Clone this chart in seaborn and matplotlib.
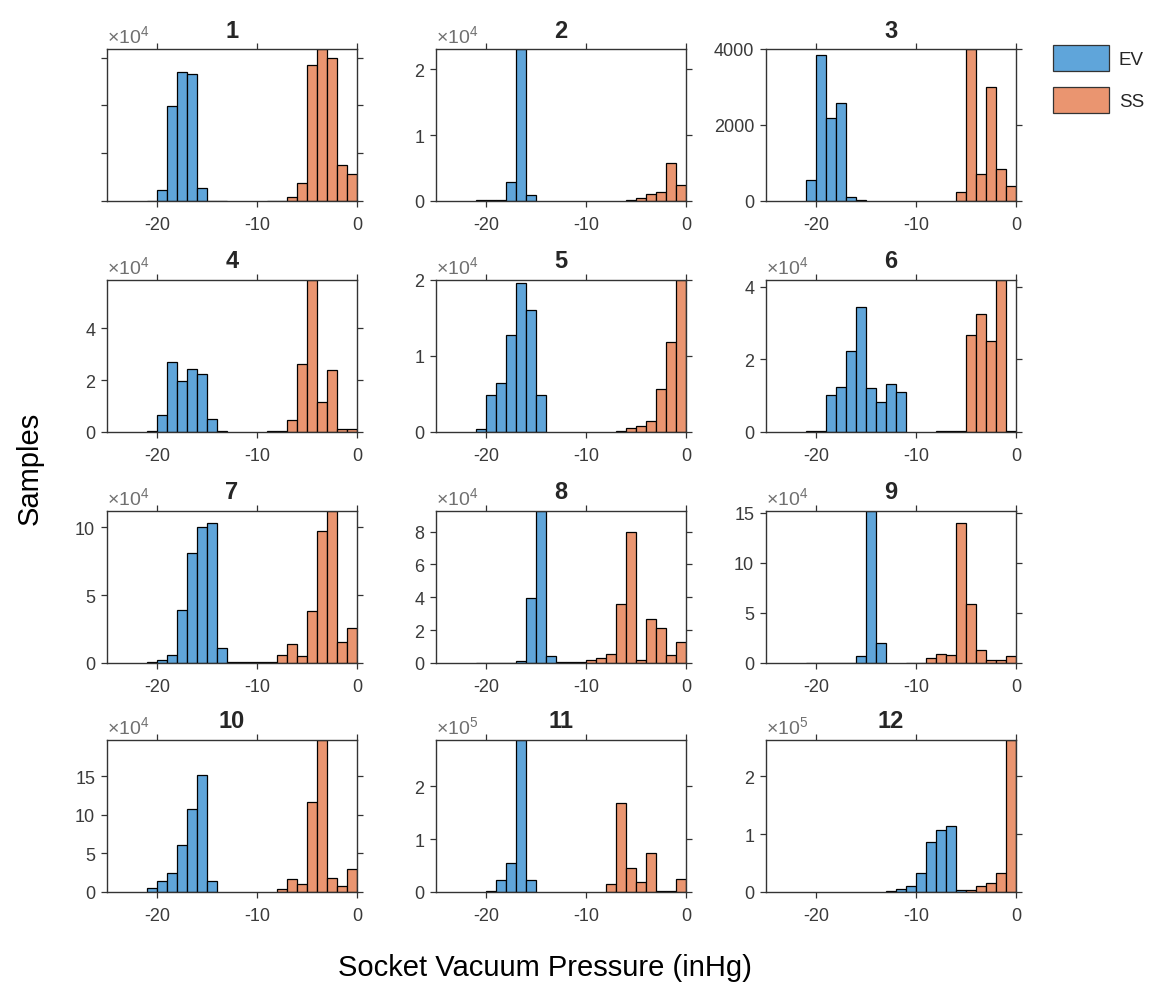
import numpy as np
import pandas as pd
import matplotlib
matplotlib.use("Agg")
import matplotlib.pyplot as plt
import seaborn as sns
from matplotlib.patches import Patch

sns.set_style("ticks")
plt.rcParams["font.family"] = ["Liberation Sans", "DejaVu Sans"]
plt.rcParams["mathtext.fontset"] = "custom"
plt.rcParams["mathtext.rm"] = "Liberation Sans"

# ---- data: per-subject histogram counts, 1 inHg bins ----
panel_titles = ["1", "2", "3", "4", "5", "6", "7", "8", "9", "10", "11", "12"]
series_names = ["EV", "SS"]

ev_first_edge = [-21, -21, -21, -21, -21, -21, -21, -21, -21, -21, -20, -13]
ev_counts = [
    [100, 2300, 19900, 26900, 26500, 2800, 100, 50],
    [100, 100, 100, 2900, 23100, 900],
    [550, 3850, 2180, 2570, 110, 30],
    [300, 6400, 26800, 19700, 24400, 22500, 5100, 300],
    [350, 4900, 6400, 12800, 19600, 16100, 4900],
    [200, 200, 10300, 12400, 22400, 34300, 12000, 8200, 13200, 11000],
    [500, 2500, 5600, 39200, 81100, 100000, 103400, 11000, 500, 500, 500, 500, 500],
    [300, 300, 300, 300, 1200, 39600, 92500, 4000, 500, 500, 500],
    [300, 300, 300, 300, 300, 6700, 152000, 20000],
    [5600, 13800, 25000, 60300, 107800, 151700, 13800],
    [2000, 22000, 55000, 288000, 22000],
    [1000, 6000, 10000, 33000, 86000, 107000, 114000, 3000, 2000],
]

ss_first_edge = [-9, -6, -6, -9, -7, -8, -8, -10, -11, -8, -8, -5]
ss_counts = [
    [50, 100, 900, 3800, 28500, 31800, 29900, 7600, 5700],
    [100, 400, 1100, 1400, 5700, 2500],
    [240, 4000, 720, 3010, 830, 400],
    [200, 200, 4500, 26100, 58500, 11600, 23800, 1000, 1000],
    [100, 570, 750, 1400, 5600, 11800, 20000],
    [200, 200, 200, 26800, 32500, 24900, 41800, 300],
    [5600, 13700, 4900, 38200, 97500, 112000, 15400, 25700],
    [2000, 3200, 5700, 36000, 79800, 2000, 26900, 21000, 5000, 12700],
    [500, 500, 5000, 9300, 8300, 140000, 59300, 12700, 3300, 3300, 7000],
    [4300, 17200, 9900, 116400, 197000, 17700, 7800, 29300],
    [15000, 169000, 46000, 19000, 74000, 1000, 1000, 25000],
    [3000, 10000, 16000, 33000, 263000],
]

bin_width = 1.0

# y axis exponent (x10^n) and tick values in scaled units
y_exponent = [4, 4, 0, 4, 4, 4, 4, 4, 4, 4, 5, 5]
y_tick_values = [
    [0, 1, 2, 3], [0, 1, 2], [0, 2000, 4000],
    [0, 2, 4], [0, 1, 2], [0, 2, 4],
    [0, 5, 10], [0, 2, 4, 6, 8], [0, 5, 10, 15],
    [0, 5, 10, 15], [0, 1, 2], [0, 1, 2],
]
x_ticks = [-20, -10, 0]
x_limits = (-25, 0)

# ---- styling ----
ev_color = "#5FA5DA"
ss_color = "#EA9570"
axis_color = "#333333"
label_color = "#3a3a3a"

W, H = 1157, 995
fig = plt.figure(figsize=(W / 100, H / 100), dpi=100)

col_left = [107, 436, 766]
row_top = [50, 281, 512, 741]
ax_w, ax_h = 250, 152

for i in range(12):
    r, c = divmod(i, 3)
    rect = [col_left[c] / W, 1 - (row_top[r] + ax_h) / H, ax_w / W, ax_h / H]
    ax = fig.add_axes(rect)

    for first, counts, color in (
        (ev_first_edge[i], ev_counts[i], ev_color),
        (ss_first_edge[i], ss_counts[i], ss_color),
    ):
        edges = [first + k * bin_width for k in range(len(counts) + 1)]
        df = pd.DataFrame({"pressure": [e + bin_width / 2 for e in edges[:-1]],
                           "count": counts})
        sns.histplot(data=df, x="pressure", weights="count", bins=edges,
                     color=color, alpha=1.0, edgecolor="black", linewidth=0.9,
                     ax=ax)

    top = max(max(ev_counts[i]), max(ss_counts[i]))
    ax.set_xlim(*x_limits)
    ax.set_ylim(0, top)
    ax.set_xlabel("")
    ax.set_ylabel("")

    scale = 10 ** y_exponent[i]
    ax.set_yticks([v * scale for v in y_tick_values[i]])
    if i == 0:
        ax.set_yticklabels([])
    else:
        ax.set_yticklabels([f"{v:g}" for v in y_tick_values[i]])
    ax.set_xticks(x_ticks)
    ax.set_xticklabels([f"{v:g}" for v in x_ticks])

    ax.tick_params(direction="out", top=True, right=True, labeltop=False,
                   labelright=False, length=4.5, width=0.9, color=axis_color,
                   labelcolor=label_color, labelsize=13)
    ax.tick_params(axis="x", pad=6)
    ax.tick_params(axis="y", pad=4)
    for sp in ax.spines.values():
        sp.set_color(axis_color)
        sp.set_linewidth(1.0)

    ax.set_title(panel_titles[i], fontsize=17, fontweight="bold", pad=9)
    if y_exponent[i] != 0:
        ax.text(0.0, 1.015, "×10$^{%d}$" % y_exponent[i], transform=ax.transAxes,
                ha="left", va="bottom", fontsize=14, color="#707070")

fig.text(30 / W, 1 - 468 / H, "Samples", rotation=90, ha="center", va="center",
         fontsize=21, color="black")
fig.text(545 / W, 1 - 968 / H, "Socket Vacuum Pressure (inHg)", ha="center",
         va="center", fontsize=21, color="black")

handles = [Patch(facecolor=ev_color, edgecolor=axis_color, linewidth=0.9, label=series_names[0]),
           Patch(facecolor=ss_color, edgecolor=axis_color, linewidth=0.9, label=series_names[1])]
fig.legend(handles=handles, loc="upper left", bbox_to_anchor=(1053 / W, 1 - 46 / H),
           frameon=False, fontsize=13.5, handlelength=3.0, handleheight=1.75,
           handletextpad=0.5, labelspacing=0.85, borderpad=0, borderaxespad=0)

fig.savefig("out.png", dpi=100)
